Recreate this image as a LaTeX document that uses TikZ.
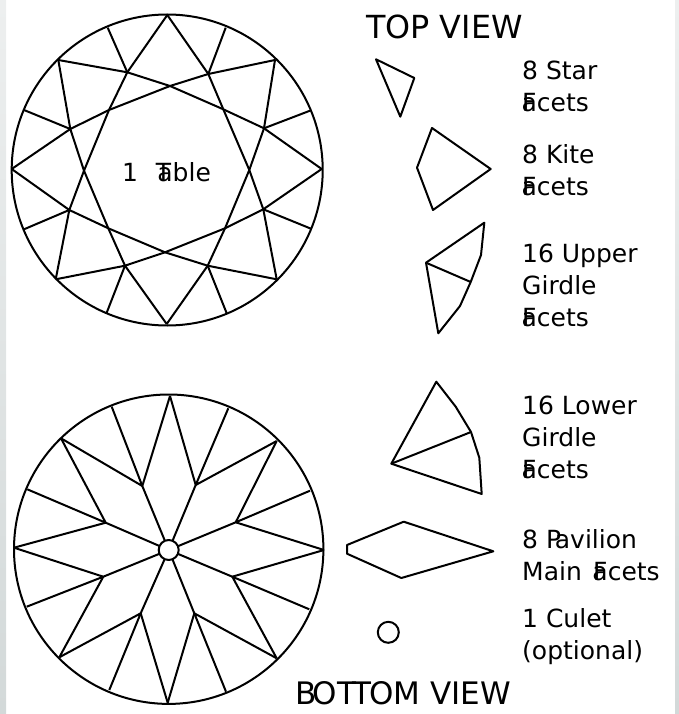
\documentclass[tikz,border=0pt]{standalone}
\usepackage{fontspec}
\setmainfont{DejaVu Sans}
\usepackage{tikz}
\definecolor{sidetop}{HTML}{EDEFEF}
\definecolor{sidebottom}{HTML}{D3D9D9}
\newcommand{\facetsword}{F\kern-.6em acets}
\tikzset{
  facetline/.style={
    draw=black,
    line width=2pt,
    line join=round
  },
  facetlabel/.style={
    anchor=base west,
    align=left,
    inner sep=0pt,
    font=\fontsize{25}{32}\selectfont
  },
  viewtitle/.style={
    anchor=base west,
    inner sep=0pt,
    font=\fontsize{31}{36}\selectfont
  },
  sidestrip/.style={
    top color=sidetop,
    bottom color=sidebottom,
    draw=none
  }
}
\begin{document}
\begin{tikzpicture}[x=1pt,y=-1pt]
\useasboundingbox (0,0) rectangle (679,714);
\path[sidestrip] (0,0) rectangle (6,714);
\path[sidestrip] (675,0) rectangle (679,714);
% top view
\draw[facetline] (167.2,170) circle (155.5);
\coordinate (tn) at (167.3,15);
\coordinate (tne) at (275,60);
\coordinate (te) at (321.7,169);
\coordinate (tse) at (276.7,279.3);
\coordinate (ts) at (166.7,324);
\coordinate (tsw) at (55.7,279.3);
\coordinate (tw) at (11.7,169);
\coordinate (tnw) at (58.3,60);
\coordinate (kite1) at (127.3,72.3);
\coordinate (kite2) at (208.3,74);
\coordinate (kite3) at (264,128.3);
\coordinate (kite4) at (263.3,209.3);
\coordinate (kite5) at (207.7,265.7);
\coordinate (kite6) at (125,265.7);
\coordinate (kite7) at (69.3,210);
\coordinate (kite8) at (70.3,129);
\coordinate (table1) at (170,86);
\coordinate (table2) at (223.3,109.3);
\coordinate (table3) at (249.3,170);
\coordinate (table4) at (225,228.3);
\coordinate (table5) at (165,252.3);
\coordinate (table6) at (108.3,228.3);
\coordinate (table7) at (84,170.7);
\coordinate (table8) at (109,110);
\draw[facetline] (tn) -- (kite1) -- (table8) -- (table7) -- (kite7) -- (tsw);
\draw[facetline] (tn) -- (kite2) -- (table2) -- (table3) -- (kite4) -- (tse);
\draw[facetline] (tnw) -- (kite8) -- (table7) -- (table6) -- (kite6) -- (ts);
\draw[facetline] (tne) -- (kite3) -- (table3) -- (table4) -- (kite5) -- (ts);
\draw[facetline] (te) -- (kite4) -- (table4) -- (table5) -- (kite6) -- (tsw);
\draw[facetline] (tw) -- (kite7) -- (table6) -- (table5) -- (kite5) -- (tse);
\draw[facetline] (tw) -- (kite8) -- (table8) -- (table1) -- (kite2) -- (tne);
\draw[facetline] (te) -- (kite3) -- (table2) -- (table1) -- (kite1) -- (tnw);
\draw[facetline] (kite1) -- (107.7,27.7);
\draw[facetline] (kite2) -- (225.7,27.7);
\draw[facetline] (kite3) -- (310,110.7);
\draw[facetline] (kite4) -- (311,228.7);
\draw[facetline] (kite5) -- (226.7,313.3);
\draw[facetline] (kite6) -- (106.7,312.7);
\draw[facetline] (kite7) -- (24,229.3);
\draw[facetline] (kite8) -- (24,110);
\node[facetlabel] (tablelabel) at (122,182) {1\hspace{.71em}T\kern-.55em able};
% bottom view
\draw[facetline] (168.7,549.2) circle (154.7);
\coordinate (bn) at (170,396);
\coordinate (bne) at (276.7,441);
\coordinate (be) at (324,550);
\coordinate (bse) at (276.7,658.3);
\coordinate (bs) at (167.7,702.7);
\coordinate (bsw) at (59.3,657.3);
\coordinate (bw) at (14,547.7);
\coordinate (bnw) at (61,438.3);
\coordinate (main1) at (142.3,486);
\coordinate (main2) at (195.7,485);
\coordinate (main3) at (235.7,522.3);
\coordinate (main4) at (232.3,576.7);
\coordinate (main5) at (194.3,613.3);
\coordinate (main6) at (140.7,613.3);
\coordinate (main7) at (103.3,576.7);
\coordinate (main8) at (105.7,522.7);
\coordinate (culetmid) at (168.7,550);
\draw[facetline] (bn) -- (main1) -- (culetmid) -- (main5) -- (bs);
\draw[facetline] (bn) -- (main2) -- (culetmid) -- (main6) -- (bs);
\draw[facetline] (bnw) -- (main1) -- (111.7,406.7);
\draw[facetline] (bne) -- (main2) -- (228.3,408.3);
\draw[facetline] (bnw) -- (main8) -- (27.3,489.3);
\draw[facetline] (bne) -- (main3) -- (310,490.7);
\draw[facetline] (bw) -- (main8) -- (culetmid) -- (main4) -- (be);
\draw[facetline] (bw) -- (main7) -- (culetmid) -- (main3) -- (be);
\draw[facetline] (bsw) -- (main7) -- (26.7,606.7);
\draw[facetline] (bse) -- (main4) -- (309.3,609.3);
\draw[facetline] (bsw) -- (main6) -- (109.3,690);
\draw[facetline] (bse) -- (main5) -- (226,691.7);
\draw[facetline,fill=white] (culetmid) circle (10);
% single facets
\draw[facetline] (376,59.3) -- (414.3,78) -- (400.3,116.7) -- cycle;
\draw[facetline] (432,128) -- (490.7,169) -- (433,210) -- (417,167.7) -- cycle;
\draw[facetline] (426,262.7) -- (484.3,222.7) -- (481,255) -- (470.7,282) -- (460,306) -- (438.3,333.3) -- cycle;
\draw[facetline] (426,262.7) -- (470.7,282);
\draw[facetline] (391.3,463.7) -- (436.3,381.7) -- (455.7,406.7) -- (471,432) -- (479.3,457.7) -- (481.7,494) -- cycle;
\draw[facetline] (391.3,463.7) -- (471,432);
\draw[facetline] (403.7,521.7) -- (493.3,551.3) -- (401.3,578) -- (347,553.7) -- (347,545) -- cycle;
\draw[facetline] (388.3,632.3) circle (10.5);
% labels
\node[viewtitle] (topview) at (366,39) {\fontsize{31.8}{36}\selectfont TOP VIEW};
\node[viewtitle] (bottomview) at (295,704) {B\kern-.12em OT\kern-.12em T\kern-.06em OM VIEW};
\node[facetlabel] (starlabel) at (522,112) {8 Star\\\facetsword};
\node[facetlabel] (kitelabel) at (522,195.5) {8 Kite\\\facetsword};
\node[facetlabel] (upperlabel) at (522,326) {16 Upper\\Girdle\\\facetsword};
\node[facetlabel] (lowerlabel) at (522,478) {16 Lower\\Girdle\\\facetsword};
\node[facetlabel] (pavilionlabel) at (522,580) {8 P\kern-.25em avilion\\Main\kern.13em\ \facetsword};
\node[facetlabel] (culetlabel) at (522,659) {1 Culet\\(optional)};
\end{tikzpicture}
\end{document}
